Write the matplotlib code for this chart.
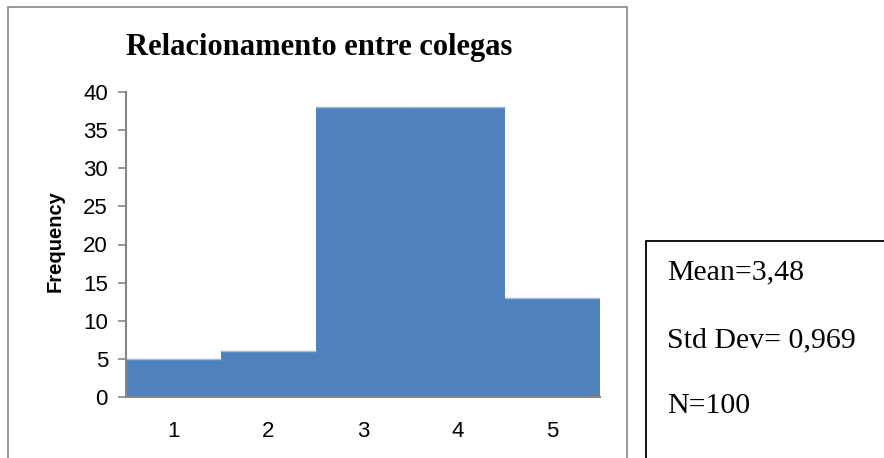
import matplotlib
matplotlib.use("Agg")
import matplotlib.pyplot as plt
from matplotlib.patches import Rectangle

# Histogram data
categories = [1, 2, 3, 4, 5]
frequencies = [5, 6, 38, 38, 13]
y_ticks = [0, 5, 10, 15, 20, 25, 30, 35, 40]
stats_lines = ["Mean=3,48", "Std Dev= 0,969", "N=100"]

BAR_COLOR = "#4F81BD"
AXIS_COLOR = "#868686"

fig = plt.figure(figsize=(8.84, 4.58), dpi=100)
W, H = 884, 458


def fx(px):
    return px / W


def fy(py):
    return 1 - py / H


# Chart frame (grey border, runs off the bottom of the image)
fig.patches.append(Rectangle((fx(8), fy(470)), fx(627) - fx(8), fy(7) - fy(470),
                             transform=fig.transFigure, fill=False,
                             edgecolor=AXIS_COLOR, linewidth=1.2, clip_on=False))

# Stats box (black border, runs off the right/bottom)
fig.patches.append(Rectangle((fx(646), fy(470)), fx(900) - fx(646), fy(241) - fy(470),
                             transform=fig.transFigure, fill=False,
                             edgecolor="black", linewidth=1.3, clip_on=False))

ax = fig.add_axes([fx(126), fy(397), fx(600) - fx(126), fy(92) - fy(397)])
ax.bar(categories, frequencies, width=1.0, color=BAR_COLOR,
       edgecolor="none", linewidth=0, zorder=2)
# light top edge on each bar
ax.hlines(frequencies, [c - 0.5 for c in categories], [c + 0.5 for c in categories],
          colors="#9DB9DE", linewidth=1.0, zorder=2.5)
ax.set_xlim(0.5, 5.5)
ax.set_ylim(0, 40)
ax.set_xticks(categories)
ax.set_yticks(y_ticks)

for side in ["top", "right"]:
    ax.spines[side].set_visible(False)
for side in ["left", "bottom"]:
    ax.spines[side].set_color(AXIS_COLOR)
    ax.spines[side].set_linewidth(1.5)
    ax.spines[side].set_zorder(3)

ax.tick_params(axis="y", direction="out", length=6, width=1.2, color=AXIS_COLOR,
               labelsize=16, pad=7)
ax.tick_params(axis="x", length=0, labelsize=16, pad=17)
for lbl in ax.get_xticklabels() + ax.get_yticklabels():
    lbl.set_fontfamily("Liberation Sans")

fig.text(fx(55), fy(241), "Frequency", rotation=90, ha="center", va="center",
         fontsize=14.5, fontweight="bold", family="Liberation Sans")

fig.text(fx(319), fy(48), "Relacionamento entre colegas", ha="center", va="center",
         fontsize=22, fontweight="bold", family="Liberation Serif")

baselines = [279, 347, 413]
for line, yb in zip(stats_lines, baselines):
    fig.text(fx(667), fy(yb), line, ha="left", va="baseline",
             fontsize=21.5, family="Liberation Serif")

fig.savefig("out.png", dpi=100, facecolor="white")
